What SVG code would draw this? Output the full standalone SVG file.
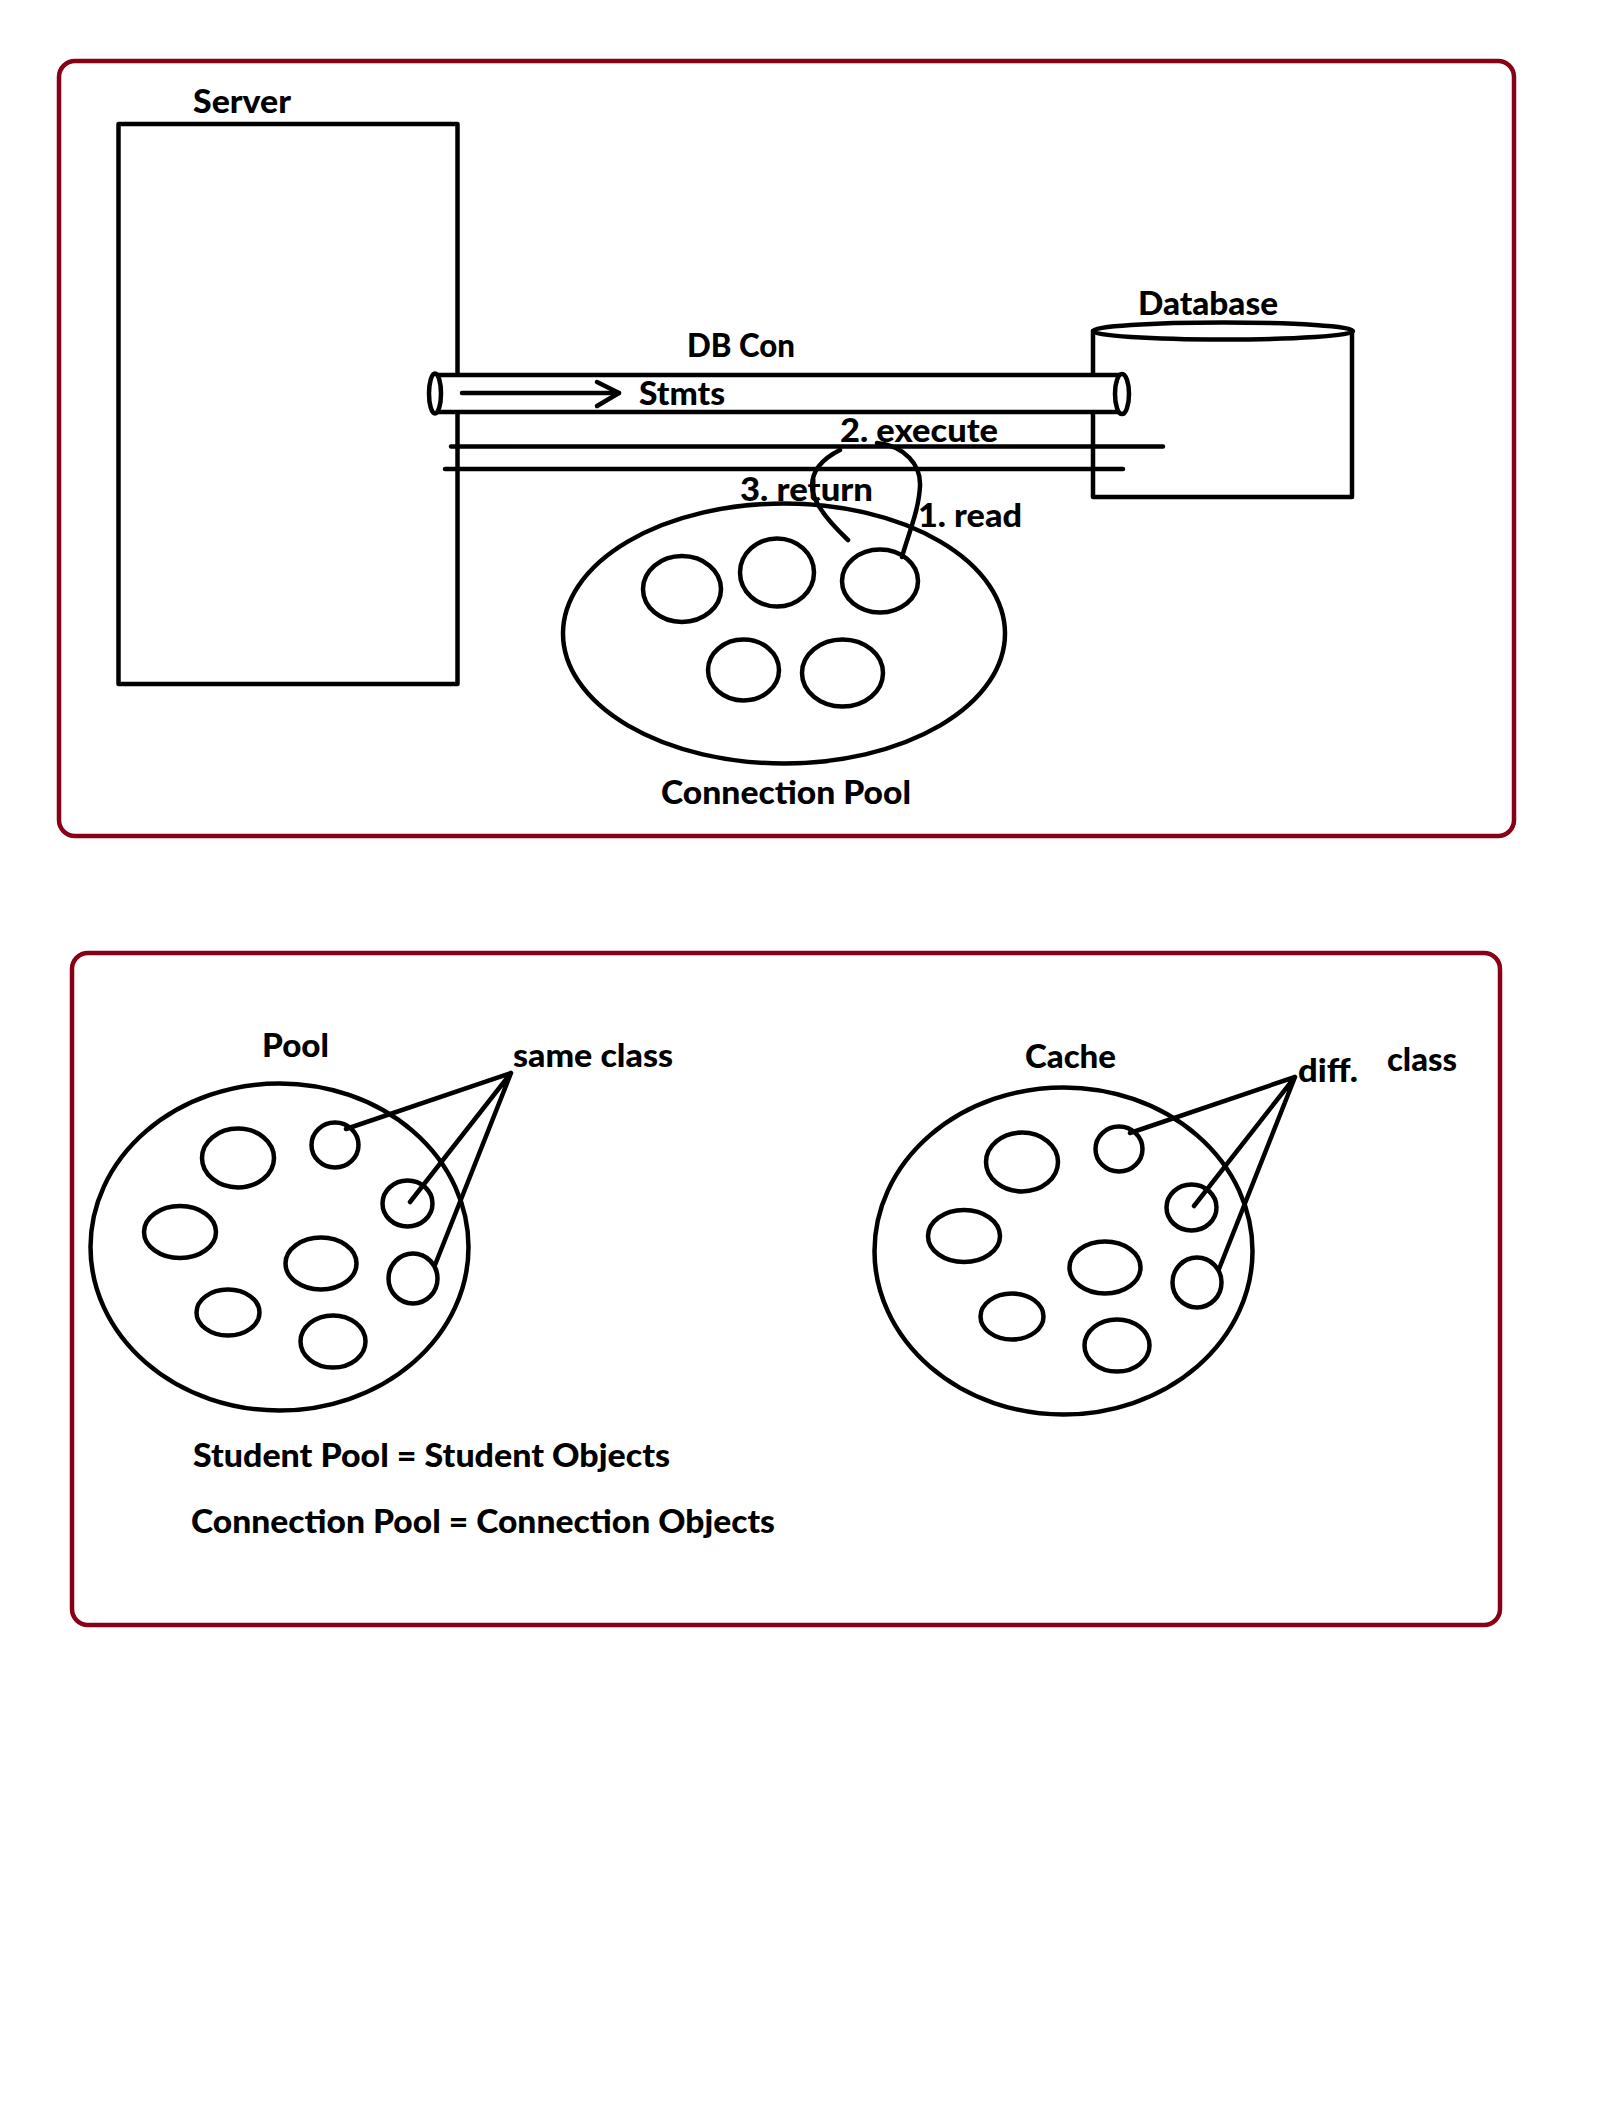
<svg xmlns="http://www.w3.org/2000/svg" width="1616" height="2112" viewBox="0 0 1616 2112">
<style>
.frame{fill:none;stroke:#880015;stroke-width:4.5}
.s{fill:none;stroke:#000;stroke-width:4.5;stroke-linecap:round;stroke-linejoin:round}
.w{fill:#fff;stroke:#000;stroke-width:4.5}
text{font-family:Lato,"Open Sans","Liberation Sans",sans-serif;font-weight:900;font-size:32px;fill:#000}
</style>
<rect width="1616" height="2112" fill="#fff"/>
<g id="frame-top"><rect class="frame" x="59" y="61" width="1455" height="775" rx="16"/></g>
<g id="frame-bottom"><rect class="frame" x="72" y="953" width="1428" height="672" rx="16"/></g>

<g id="server">
<rect class="s" x="118.5" y="124" width="339" height="560" style="stroke-linecap:butt"/>
<text x="193" y="113" textLength="98" lengthAdjust="spacingAndGlyphs">Server</text>
</g>

<g id="database">
<path class="s" d="M1093,331 L1093,497 L1352,497 L1352,331"/>
<ellipse class="s" cx="1223" cy="331" rx="130" ry="8.5"/>
<text x="1138" y="315" textLength="140" lengthAdjust="spacingAndGlyphs">Database</text>
</g>

<g id="db-con">
<path d="M435,375 L1122,375 L1122,412 L435,412 Z" fill="#fff"/>
<line class="s" x1="435" y1="375" x2="1122" y2="375"/>
<line class="s" x1="435" y1="412" x2="1122" y2="412"/>
<ellipse class="w" cx="435" cy="393.5" rx="6" ry="20"/>
<ellipse class="w" cx="1122" cy="394" rx="7" ry="20"/>
<text x="687" y="357" textLength="108" lengthAdjust="spacingAndGlyphs">DB Con</text>
<text x="639" y="405" textLength="86" lengthAdjust="spacingAndGlyphs">Stmts</text>
</g>

<g id="connectors">
<line class="s" x1="462" y1="393" x2="619" y2="393"/>
<polyline class="s" points="597,382 619,393 597,406"/>
<line class="s" x1="451" y1="446.5" x2="1163" y2="446.5"/>
<line class="s" x1="445" y1="469" x2="1123" y2="469"/>
<path class="s" d="M848,540 Q812,506 812,486 Q812,464 840,450"/>
<path class="s" d="M877,443 C905,446 921,465 920,486 C919,510 908,535 902,557"/>
<path class="s" d="M511,1073 L346,1129 M511,1073 L410,1202 M511,1073 L435,1265"/>
<path class="s" d="M1295,1077 L1130,1133 M1295,1077 L1194,1206 M1295,1077 L1219,1269"/>
</g>

<g id="label-execute"><text x="840" y="442" textLength="158" lengthAdjust="spacingAndGlyphs">2. execute</text></g>
<g id="label-return"><text x="740" y="501" textLength="133" lengthAdjust="spacingAndGlyphs">3. return</text></g>
<g id="label-read"><text x="918" y="527" textLength="104" lengthAdjust="spacingAndGlyphs">1. read</text></g>

<g id="connection-pool">
<ellipse class="s" cx="784" cy="633.5" rx="221" ry="130"/>
<ellipse class="s" cx="682" cy="589" rx="39" ry="33"/>
<ellipse class="s" cx="777" cy="572.5" rx="37" ry="34"/>
<ellipse class="s" cx="880" cy="581" rx="38" ry="31.5"/>
<ellipse class="s" cx="743.5" cy="670" rx="35.5" ry="30.5"/>
<ellipse class="s" cx="842.5" cy="673" rx="40.5" ry="33.5"/>
<text x="661" y="804" textLength="250" lengthAdjust="spacingAndGlyphs">Connection Pool</text>
</g>

<g id="pool">
<ellipse class="s" cx="279.5" cy="1247" rx="189" ry="163.5"/>
<ellipse class="s" cx="238" cy="1158" rx="36" ry="29.5"/>
<ellipse class="s" cx="335" cy="1145" rx="23.5" ry="22.5"/>
<ellipse class="s" cx="180" cy="1232" rx="36" ry="26"/>
<ellipse class="s" cx="407.5" cy="1203.5" rx="25" ry="23"/>
<ellipse class="s" cx="321" cy="1263.5" rx="35.5" ry="26"/>
<ellipse class="s" cx="413" cy="1278.5" rx="24.5" ry="25"/>
<ellipse class="s" cx="228" cy="1312.5" rx="31.5" ry="23"/>
<ellipse class="s" cx="333" cy="1341.5" rx="32.5" ry="26"/>
<text x="262" y="1057" textLength="67" lengthAdjust="spacingAndGlyphs">Pool</text>
<text x="513" y="1067" textLength="160" lengthAdjust="spacingAndGlyphs">same class</text>
</g>

<g id="cache">
<g transform="translate(784,4)">
<ellipse class="s" cx="279.5" cy="1247" rx="189" ry="163.5"/>
<ellipse class="s" cx="238" cy="1158" rx="36" ry="29.5"/>
<ellipse class="s" cx="335" cy="1145" rx="23.5" ry="22.5"/>
<ellipse class="s" cx="180" cy="1232" rx="36" ry="26"/>
<ellipse class="s" cx="407.5" cy="1203.5" rx="25" ry="23"/>
<ellipse class="s" cx="321" cy="1263.5" rx="35.5" ry="26"/>
<ellipse class="s" cx="413" cy="1278.5" rx="24.5" ry="25"/>
<ellipse class="s" cx="228" cy="1312.5" rx="31.5" ry="23"/>
<ellipse class="s" cx="333" cy="1341.5" rx="32.5" ry="26"/>
</g>
<text x="1025" y="1068" textLength="91" lengthAdjust="spacingAndGlyphs">Cache</text>
<text x="1298" y="1082" textLength="60" lengthAdjust="spacingAndGlyphs">diff.</text>
<text x="1387" y="1071" textLength="70" lengthAdjust="spacingAndGlyphs">class</text>
</g>

<g id="notes">
<text x="193" y="1467" textLength="477" lengthAdjust="spacingAndGlyphs">Student Pool = Student Objects</text>
<text x="191" y="1533" textLength="584" lengthAdjust="spacingAndGlyphs">Connection Pool = Connection Objects</text>
</g>
</svg>
